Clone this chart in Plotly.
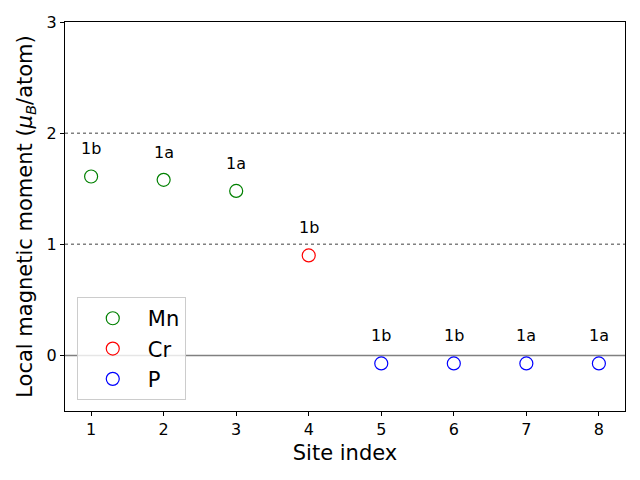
import plotly.graph_objects as go

site_mn = [1, 2, 3]
mom_mn = [1.61, 1.58, 1.48]
site_cr = [4]
mom_cr = [0.90]
site_p = [5, 6, 7, 8]
mom_p = [-0.072, -0.072, -0.072, -0.072]
sites = [1, 2, 3, 4, 5, 6, 7, 8]
wyckoff = ["1b", "1a", "1a", "1b", "1b", "1b", "1a", "1a"]
moments = mom_mn + mom_cr + mom_p

font = "DejaVu Sans"
fig = go.Figure()

fig.add_hline(y=0, line=dict(color="gray", width=1.5), layer="below")
for yv in [1, 2]:
    fig.add_hline(y=yv, line=dict(color="gray", width=1.5, dash="dot"), layer="below")

for name, xs, ys, col in [("Mn", site_mn, mom_mn, "green"),
                          ("Cr", site_cr, mom_cr, "red"),
                          ("P", site_p, mom_p, "blue")]:
    fig.add_trace(go.Scatter(x=xs, y=ys, mode="markers", name=name,
                             marker=dict(symbol="circle-open", size=13,
                                         color=col, line=dict(width=1.2, color=col))))

for s, w, m in zip(sites, wyckoff, moments):
    fig.add_annotation(x=s, y=m + 0.25, text=w, showarrow=False,
                       font=dict(family=font, size=16, color="black"))

axis_common = dict(showline=True, linecolor="black", linewidth=1, mirror=True,
                   ticks="outside", ticklen=4, tickcolor="black", showgrid=False,
                   zeroline=False, tickfont=dict(family=font, size=16, color="black"))

fig.update_layout(
    width=640, height=480,
    margin=dict(l=65, r=15, t=22, b=69),
    plot_bgcolor="white", paper_bgcolor="white",
    xaxis=dict(range=[0.64, 8.36], tickvals=sites, title=dict(text="Site index",
               font=dict(family=font, size=21, color="black"), standoff=7), **axis_common),
    yaxis=dict(range=[-0.5, 3], tickvals=[0, 1, 2, 3],
               title=dict(text="Local magnetic moment (<i>μ<sub>B</sub></i>/atom)",
                          font=dict(family=font, size=21, color="black"), standoff=8),
               **axis_common),
    legend=dict(x=0.021, y=0.028, xanchor="left", yanchor="bottom",
                bgcolor="rgba(255,255,255,0.8)", bordercolor="#cccccc", borderwidth=1,
                font=dict(family=font, size=21, color="black"), itemwidth=60,
                tracegroupgap=0),
    showlegend=True,
)

fig.write_html("out.html")
